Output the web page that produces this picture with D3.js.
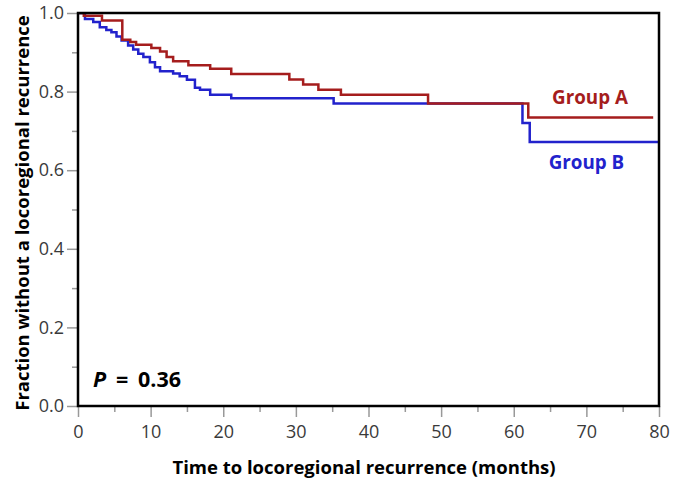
<!DOCTYPE html>
<html>
<head>
<meta charset="utf-8">
<script src="https://cdn.jsdelivr.net/npm/d3@7"></script>
<style>
  body { margin: 0; background: #fff; }
  .axisTitle { font-family: "Open Sans", sans-serif; font-weight: bold; font-size: 18.5px; fill: #000; }
</style>
</head>
<body>
<div class="chart"></div>
<script>
var svgWidth = 685;
var svgHeight = 479;

var margin = { top: 13, right: 26, bottom: 73, left: 78 };

var width = svgWidth - margin.left - margin.right;
var height = svgHeight - margin.top - margin.bottom;

// step data
var groupATimes = [0, 0.8, 3.3, 6.1, 7.2, 8.0, 10.1, 11.3, 12.2, 13.1, 15.2, 18.2, 21.1, 29.1, 31.0, 33.1, 36.2, 48.2, 62.0, 79.2];
var groupAValues = [1.0, 0.993, 0.981, 0.932, 0.926, 0.919, 0.911, 0.902, 0.888, 0.877, 0.867, 0.858, 0.845, 0.831, 0.818, 0.805, 0.792, 0.770, 0.734, 0.734];

var groupBTimes = [0, 0.96, 2.1, 3.0, 3.9, 4.6, 5.3, 6.0, 6.9, 7.6, 8.3, 9.0, 9.9, 10.6, 11.3, 13.1, 14.0, 15.0, 16.1, 16.8, 18.2, 21.1, 35.2, 61.2, 62.2, 80];
var groupBValues = [1.0, 0.985, 0.977, 0.964, 0.957, 0.951, 0.940, 0.930, 0.917, 0.907, 0.896, 0.888, 0.875, 0.862, 0.852, 0.846, 0.839, 0.830, 0.810, 0.805, 0.792, 0.783, 0.770, 0.720, 0.672, 0.672];

var xTicks = [0, 10, 20, 30, 40, 50, 60, 70, 80];
var yTicks = [0.0, 0.2, 0.4, 0.6, 0.8, 1.0];

var svg = d3.select(".chart")
  .append("svg")
  .attr("width", svgWidth)
  .attr("height", svgHeight)
  .append("g")
  .attr("transform", "translate(" + margin.left + "," + margin.top + ")");

var xLinearScale = d3.scaleLinear().domain([0, 80]).range([0, width]);
var yLinearScale = d3.scaleLinear().domain([0, 1]).range([height, 0]);

// minor ticks
svg.append("g")
  .attr("transform", `translate(0, ${height})`)
  .call(d3.axisBottom(xLinearScale).tickValues(d3.range(5, 80, 10)).tickSize(6).tickFormat(""))
  .call(g => g.select(".domain").remove());
svg.append("g")
  .call(d3.axisLeft(yLinearScale).tickValues(d3.range(0.1, 1, 0.2)).tickSize(6).tickFormat(""))
  .call(g => g.select(".domain").remove());

// major ticks
svg.append("g")
  .attr("transform", `translate(0, ${height})`)
  .call(d3.axisBottom(xLinearScale).tickValues(xTicks).tickSize(11).tickPadding(8).tickFormat(d3.format("d")))
  .call(g => g.select(".domain").remove());
svg.append("g")
  .call(d3.axisLeft(yLinearScale).tickValues(yTicks).tickSize(11).tickPadding(3).tickFormat(d3.format(".1f")))
  .call(g => g.select(".domain").remove());

svg.selectAll(".tick line").attr("stroke", "#999").attr("stroke-width", 1.5);
svg.selectAll(".tick text")
  .style("font-family", "Open Sans, sans-serif")
  .style("font-size", "18px")
  .attr("fill", "#3a3a3a");

svg.append("clipPath").attr("id", "clip")
  .append("rect").attr("width", width).attr("height", height);

var line = d3.line()
  .x(d => xLinearScale(d[0]))
  .y(d => yLinearScale(d[1]))
  .curve(d3.curveStepAfter);

var curves = [
  { times: groupBTimes, values: groupBValues, color: "#2222cc" },
  { times: groupATimes, values: groupAValues, color: "#a51d1d" }
];

curves.forEach(function(c) {
  svg.append("path")
    .datum(c.times.map((t, i) => [t, c.values[i]]))
    .attr("clip-path", "url(#clip)")
    .attr("fill", "none")
    .attr("stroke", c.color)
    .attr("stroke-width", 2.5)
    .attr("d", line);
});

// frame
svg.append("rect")
  .attr("width", width)
  .attr("height", height)
  .attr("fill", "none")
  .attr("stroke", "#000")
  .attr("stroke-width", 2.5);

svg.append("text")
  .attr("x", xLinearScale(70.5))
  .attr("y", yLinearScale(0.768))
  .attr("text-anchor", "middle")
  .style("font-family", "Open Sans, sans-serif")
  .style("font-weight", "bold")
  .style("font-size", "18.8px")
  .attr("fill", "#a51d1d")
  .text("Group A");

svg.append("text")
  .attr("x", xLinearScale(70))
  .attr("y", yLinearScale(0.603))
  .attr("text-anchor", "middle")
  .style("font-family", "Open Sans, sans-serif")
  .style("font-weight", "bold")
  .style("font-size", "18.8px")
  .attr("fill", "#2222cc")
  .text("Group B");

var pText = svg.append("text")
  .attr("y", 386.5 - margin.top)
  .style("font-family", "Open Sans, sans-serif")
  .style("font-weight", "bold")
  .style("font-size", "21.5px");
pText.append("tspan").attr("x", 15).style("font-style", "italic").text("P");
pText.append("tspan").attr("x", 38).text("=");
pText.append("tspan").attr("x", 60).text("0.36");

svg.append("text")
  .attr("class", "axisTitle")
  .attr("x", width / 2 - 4.5)
  .attr("y", height + 68)
  .attr("text-anchor", "middle")
  .text("Time to locoregional recurrence (months)");

svg.append("text")
  .attr("class", "axisTitle")
  .attr("transform", "rotate(-90)")
  .attr("x", -200)
  .attr("y", -margin.left + 29)
  .attr("text-anchor", "middle")
  .text("Fraction without a locoregional recurrence");
</script>
</body>
</html>
